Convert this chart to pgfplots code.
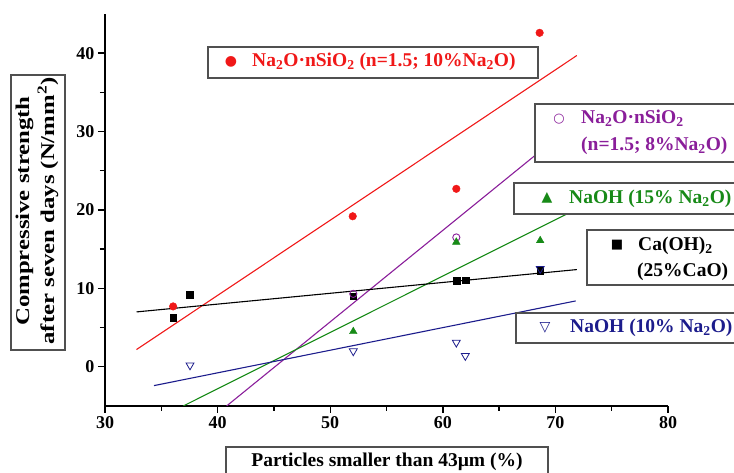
\documentclass[border=0pt]{standalone}
\usepackage{fontspec}
\setmainfont{Liberation Serif}
\newfontfamily\ylf[FakeStretch=1.27]{Liberation Serif}
\newfontfamily\sym{DejaVu Sans}
\usepackage{pgfplots}
\pgfplotsset{compat=1.18}
\definecolor{cred}{HTML}{F01818}
\definecolor{cpurple}{HTML}{8A1E9A}
\definecolor{cgreen}{HTML}{178A17}
\definecolor{cblue}{HTML}{1C1C8C}
\definecolor{boxc}{HTML}{505050}
\newcommand{\lab}{\bfseries\fontsize{19.5}{25}\selectfont}
\newcommand{\sub}[1]{\textsubscript{#1}}

\begin{document}
\begin{tikzpicture}
\useasboundingbox (0,0) rectangle (734pt,473pt);
\begin{axis}[
  at={(105pt,67pt)},anchor=south west,
  scale only axis,width=563pt,height=392pt,
  xmin=30,xmax=80,ymin=-5,ymax=45,
  axis x line*=bottom,axis y line*=left,
  axis line style={line width=1.6pt},
  xtick={30,40,...,80},ytick={0,10,...,40},
  minor x tick num=1,minor y tick num=1,
  tick align=outside,
  major tick length=7pt,minor tick length=5pt,
  every tick/.style={line width=1.4pt,black},
  tick label style={font=\bfseries\fontsize{18}{18}\selectfont},
  /pgf/number format/assume math mode=true,
]
% trend lines
\addplot[cred,line width=1.1pt] coordinates {(32.8,2.2) (71.9,39.7)};
\addplot[cpurple,line width=1.1pt] coordinates {(40.8,-5) (72,31.4)};
\addplot[cgreen,line width=1.1pt] coordinates {(36.95,-5) (72,20.2)};
\addplot[black,line width=1.1pt] coordinates {(32.8,7.0) (71.9,12.4)};
\addplot[cblue,line width=1.1pt] coordinates {(34.35,-2.4) (71.8,8.4)};
% data
\addplot[only marks,mark=square*,mark size=3.4pt,black] coordinates {
  (36.05,6.3) (37.55,9.15) (52.05,9.0) (61.2,11.0) (62.0,11.05) (68.65,12.3)};
\addplot[only marks,mark=*,mark size=3.8pt,cred] coordinates {
  (36.05,7.7) (52.0,19.2) (61.2,22.7) (68.6,42.6)};
\addplot[only marks,mark=o,mark size=3.6pt,cpurple,mark options={line width=0.9pt}] coordinates {
  (52.05,9.3) (61.2,16.5)};
\addplot[only marks,mark=triangle*,mark size=4.4pt,cgreen] coordinates {
  (52.05,4.5) (61.2,15.9) (68.65,16.1)};
\addplot[only marks,mark=triangle,mark size=4.6pt,cblue,mark options={rotate=180,line width=0.8pt}] coordinates {
  (37.55,0.2) (52.05,2.0) (61.2,3.1) (62.0,1.4) (68.65,12.5)};
\end{axis}

\begin{scope}[shift={(0pt,473pt)},x=1pt,y=-1pt]
  \tikzset{bx/.style={draw=boxc,line width=1.2pt,fill=white},
           tx/.style={anchor=west,inner sep=0pt,font=\lab}}
  % y label
  \draw[bx] (11,75) rectangle (65,350);
  \node[rotate=90,align=center,font=\ylf\lab] at (37,211)
    {Compressive strength\\after seven days (N/mm\textsuperscript{2})};
  % x label
  \draw[bx] (226,447) rectangle (548,480);
  \node[font=\lab] at (387,462) {Particles smaller than 43µm (\%)};
  % red
  \draw[bx] (208,47) rectangle (538,78);
  \node[text=cred,inner sep=0pt] at (231,62) {\sym\fontsize{14}{14}\selectfont ●};
  \node[tx,text=cred] at (252,62) {Na\sub{2}O·nSiO\sub{2} (n=1.5; 10\%Na\sub{2}O)};
  % purple
  \draw[bx] (535,104) rectangle (740,162);
  \node[text=cpurple,inner sep=0pt] at (559,119) {\sym\fontsize{13}{13}\selectfont ○};
  \node[tx,text=cpurple] at (581,118) {Na\sub{2}O·nSiO\sub{2}};
  \node[tx,text=cpurple] at (581,146) {(n=1.5; 8\%Na\sub{2}O)};
  % green
  \draw[bx] (514,183) rectangle (740,214);
  \node[text=cgreen,inner sep=0pt] at (547,198) {\sym\fontsize{14}{14}\selectfont ▲};
  \node[tx,text=cgreen] at (569,199) {NaOH (15\% Na\sub{2}O)};
  % black
  \draw[bx] (587,230) rectangle (740,285);
  \node[text=black,inner sep=0pt] at (617,245) {\sym\fontsize{13}{13}\selectfont ■};
  \node[tx] at (638,246) {Ca(OH)\sub{2}};
  \node[tx] at (637,272) {(25\%CaO)};
  % blue
  \draw[bx] (516,313) rectangle (740,343);
  \node[text=cblue,inner sep=0pt] at (545,328) {\sym\fontsize{14}{14}\selectfont ▽};
  \node[tx,text=cblue] at (570,328) {NaOH (10\% Na\sub{2}O)};
\end{scope}
\end{tikzpicture}
\end{document}
